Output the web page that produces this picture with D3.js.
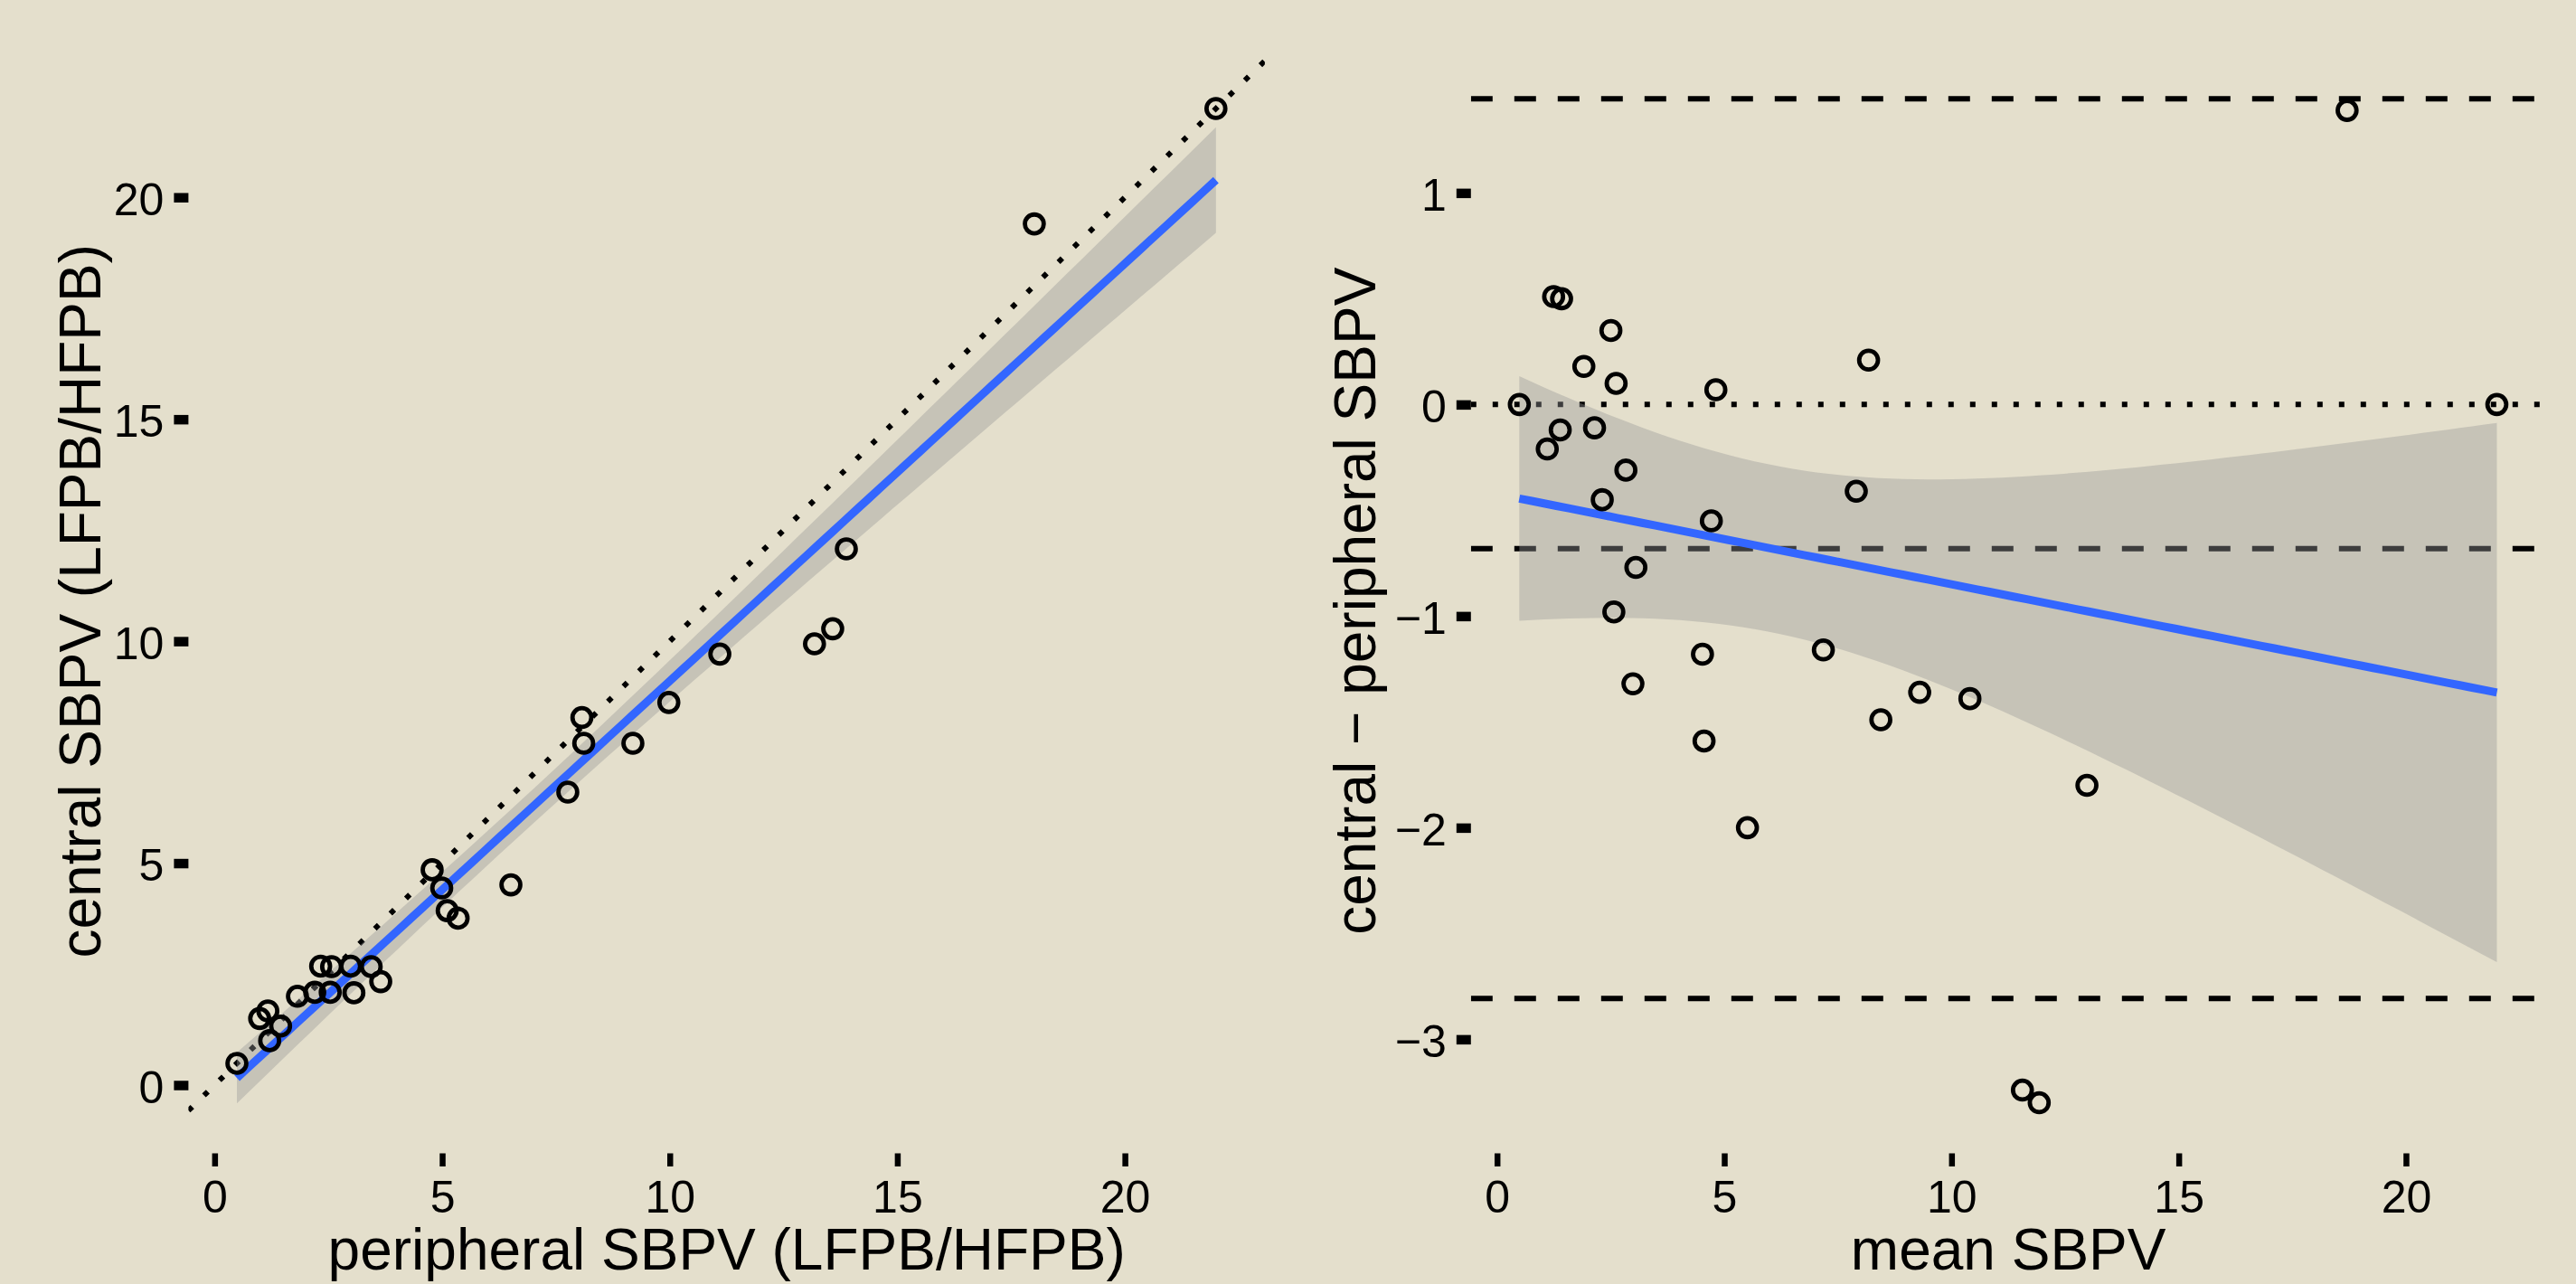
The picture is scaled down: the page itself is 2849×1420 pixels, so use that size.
<!DOCTYPE html>
<html>
<head>
<meta charset="utf-8">
<script src="https://cdn.jsdelivr.net/npm/d3@7"></script>
<style>
  html, body { margin: 0; padding: 0; background: #E4DFCC; }
  svg { display: block; }
  text { font-family: "Liberation Sans", Arial, Helvetica, sans-serif; fill: #000; }
</style>
</head>
<body>
<svg id="chart"></svg>
<script>
// SBPV readings, one entry per subject
var peripheral = [0.49, 0.99, 1.17, 2.33, 1.82, 2.57, 4.78, 8.07, 1.45, 1.21,
                  2.20, 2.99, 2.54, 4.99, 8.11, 3.44, 3.06, 5.11, 7.76, 3.65,
                  9.98, 11.10, 9.19, 5.35, 6.51, 13.88, 13.18, 13.58, 18.01, 22.00];
var central    = [0.49, 1.50, 1.67, 2.68, 2.00, 2.67, 4.85, 8.28, 1.33, 1.00,
                  2.09, 2.68, 2.09, 4.44, 7.70, 2.67, 2.08, 3.93, 6.60, 2.33,
                  8.62, 9.71, 7.70, 3.76, 4.51, 12.08, 9.94, 10.28, 19.40, 22.00];

var xTicks = [0, 5, 10, 15, 20];
var leftYTicks = [0, 5, 10, 15, 20];
var rightYTicks = [-3, -2, -1, 0, 1];

var W = 2849, H = 1420;
var bg = "#E4DFCC";
var font = '"Liberation Sans", Arial, Helvetica, sans-serif';
var tCrit = 2.048; // t(0.975, df = 28)

var svg = d3.select("#chart").attr("width", W).attr("height", H);
svg.append("rect").attr("width", W).attr("height", H).attr("fill", bg);

var meanV = peripheral.map(function(p, i){ return (p + central[i]) / 2; });
var diffV = peripheral.map(function(p, i){ return central[i] - p; });

function lmFit(xs, ys){
	var n = xs.length;
	var xb = d3.mean(xs), yb = d3.mean(ys);
	var sxx = 0, sxy = 0;
	xs.forEach(function(x, i){ sxx += (x - xb) * (x - xb); sxy += (x - xb) * (ys[i] - yb); });
	var b = sxy / sxx, a = yb - b * xb;
	var sse = 0;
	xs.forEach(function(x, i){ var r = ys[i] - (a + b * x); sse += r * r; });
	var s = Math.sqrt(sse / (n - 2));
	var lo = d3.min(xs), hi = d3.max(xs);
	var pts = d3.range(80).map(function(k){
		var x = lo + (hi - lo) * k / 79;
		var f = a + b * x;
		var se = s * Math.sqrt(1 / n + (x - xb) * (x - xb) / sxx);
		return {x: x, y: f, ymin: f - tCrit * se, ymax: f + tCrit * se};
	});
	return pts;
}

function styleAxis(g, tickW){
	g.select(".domain").remove();
	g.selectAll(".tick line").attr("stroke", "#000").attr("stroke-width", tickW);
	g.selectAll(".tick text").attr("font-size", 50).attr("font-family", font).attr("fill", "#000");
}

function drawPanel(o){
	var x = d3.scaleLinear().domain(o.xDom).range(o.xRange);
	var y = d3.scaleLinear().domain(o.yDom).range(o.yRange);
	var clipId = "clip-" + o.id;
	svg.append("clipPath").attr("id", clipId).append("rect")
		.attr("x", o.xRange[0]).attr("y", o.yRange[1])
		.attr("width", o.xRange[1] - o.xRange[0]).attr("height", o.yRange[0] - o.yRange[1]);
	var g = svg.append("g").attr("clip-path", "url(#" + clipId + ")");

	// reference lines first (ribbon goes over them)
	o.refs.forEach(function(r){
		g.append("line")
			.attr("x1", x(r.x1)).attr("x2", x(r.x2))
			.attr("y1", y(r.y1)).attr("y2", y(r.y2))
			.attr("stroke", "#000").attr("stroke-width", 6)
			.attr("stroke-dasharray", r.dash);
	});

	var fit = lmFit(o.xs, o.ys);
	g.append("path").datum(fit)
		.attr("fill", "#999999").attr("fill-opacity", 0.4)
		.attr("d", d3.area().x(function(d){ return x(d.x); })
			.y0(function(d){ return y(d.ymin); }).y1(function(d){ return y(d.ymax); }));
	g.append("path").datum(fit)
		.attr("fill", "none").attr("stroke", "#3366FF").attr("stroke-width", 9)
		.attr("d", d3.line().x(function(d){ return x(d.x); }).y(function(d){ return y(d.y); }));

	g.selectAll("circle.pt").data(o.xs).enter().append("circle")
		.attr("class", "pt")
		.attr("cx", function(d){ return x(d); })
		.attr("cy", function(d, i){ return y(o.ys[i]); })
		.attr("r", 10.4).attr("fill", "none").attr("stroke", "#000").attr("stroke-width", 4.8);

	var ax = svg.append("g").attr("transform", "translate(0," + o.yRange[0] + ")")
		.call(d3.axisBottom(x).tickValues(xTicks).tickFormat(d3.format("d"))
			.tickSize(14.5).tickPadding(15));
	styleAxis(ax, 6.5);

	var ay = svg.append("g").attr("transform", "translate(" + o.xRange[0] + ",0)")
		.call(d3.axisLeft(y).tickValues(o.yTicks).tickFormat(d3.format("d"))
			.tickSize(16).tickPadding(11));
	styleAxis(ay, 10.5);
	ay.selectAll(".tick text").attr("dy", "0.38em");

	svg.append("text")
		.attr("x", (o.xRange[0] + o.xRange[1]) / 2).attr("y", 1404)
		.attr("text-anchor", "middle").attr("font-size", 64)
		.text(o.xTitle);
	var cy = (o.yRange[0] + o.yRange[1]) / 2;
	svg.append("text")
		.attr("transform", "translate(" + o.yTitleX + "," + cy + ") rotate(-90)")
		.attr("text-anchor", "middle").attr("font-size", 64)
		.text(o.yTitle);
}

// left: central vs peripheral with identity line
drawPanel({
	id: "left",
	xs: peripheral, ys: central,
	xDom: [-0.575, 23.075], xRange: [208.4, 1398.9],
	yDom: [-1.538, 23.345], yRange: [1275.5, 54],
	yTicks: leftYTicks,
	refs: [{x1: -0.575, y1: -0.575, x2: 23.075, y2: 23.075, dash: "6 18"}],
	xTitle: "peripheral SBPV (LFPB/HFPB)",
	yTitle: "central SBPV (LFPB/HFPB)",
	yTitleX: 111
});

// right: Bland-Altman, mean difference and limits at +/- 2 SD
var md = d3.mean(diffV), sd = d3.deviation(diffV);
drawPanel({
	id: "right",
	xs: meanV, ys: diffV,
	xDom: [-0.575, 23.075], xRange: [1626.8, 2815.5],
	yDom: [-3.539, 1.681], yRange: [1275.5, 54],
	yTicks: rightYTicks,
	refs: [
		{x1: -0.575, y1: md + 2 * sd, x2: 23.075, y2: md + 2 * sd, dash: "24 24"},
		{x1: -0.575, y1: md, x2: 23.075, y2: md, dash: "24 24"},
		{x1: -0.575, y1: md - 2 * sd, x2: 23.075, y2: md - 2 * sd, dash: "24 24"},
		{x1: -0.575, y1: 0, x2: 23.075, y2: 0, dash: "6 18"}
	],
	xTitle: "mean SBPV",
	yTitle: "central \u2212 peripheral SBPV",
	yTitleX: 1521
});
</script>
</body>
</html>
